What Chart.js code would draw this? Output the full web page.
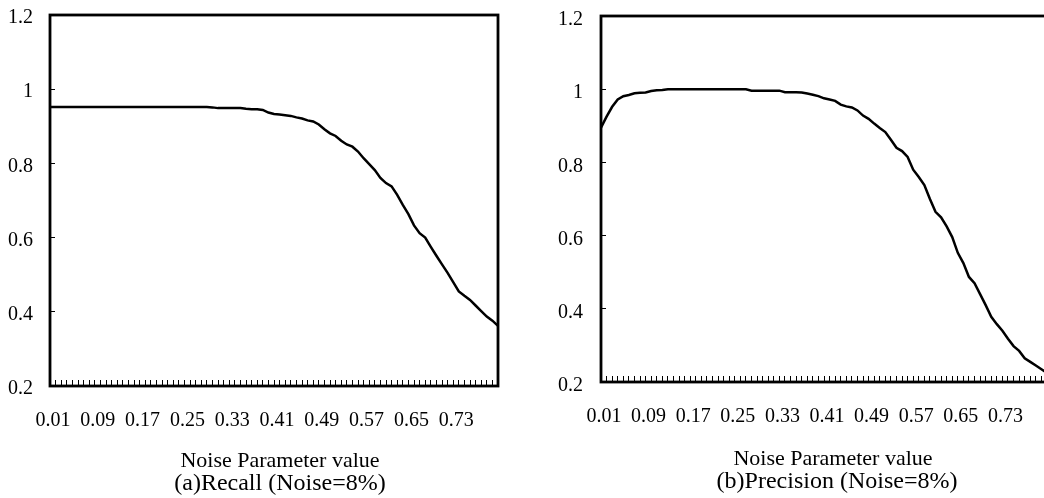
<!DOCTYPE html>
<html>
<head>
<meta charset="utf-8">
<script src="https://cdn.jsdelivr.net/npm/chart.js@4"></script>
<style>
    html, body { margin: 0; padding: 0; background: #fff; overflow: hidden; }
    body { width: 1044px; height: 498px; position: relative; }
    canvas { position: absolute; top: 0; }
    #recallChart { left: 0; }
    #precisionChart { left: 520px; }
    .cap { position: absolute; width: 400px; text-align: center; font-family: "Liberation Serif", "Times New Roman", serif; line-height: 1; color: #000; white-space: nowrap; }
    .axis-title { font-size: 22px; }
    .panel-title { font-size: 24px; }
</style>
</head>
<body>
<canvas id="recallChart" width="520" height="498"></canvas>
<canvas id="precisionChart" width="532" height="498"></canvas>

<div class="cap axis-title" style="left:80px; top:449px;">Noise Parameter value</div>
<div class="cap panel-title" style="left:80px; top:470px;">(a)Recall (Noise=8%)</div>
<div class="cap axis-title" style="left:633px; top:447px;">Noise Parameter value</div>
<div class="cap panel-title" style="left:637px; top:468px;">(b)Precision (Noise=8%)</div>

<script>
var noiseParams = ['0.01', '0.02', '0.03', '0.04', '0.05', '0.06', '0.07', '0.08', '0.09', '0.10',
    '0.11', '0.12', '0.13', '0.14', '0.15', '0.16', '0.17', '0.18', '0.19', '0.20',
    '0.21', '0.22', '0.23', '0.24', '0.25', '0.26', '0.27', '0.28', '0.29', '0.30',
    '0.31', '0.32', '0.33', '0.34', '0.35', '0.36', '0.37', '0.38', '0.39', '0.40',
    '0.41', '0.42', '0.43', '0.44', '0.45', '0.46', '0.47', '0.48', '0.49', '0.50',
    '0.51', '0.52', '0.53', '0.54', '0.55', '0.56', '0.57', '0.58', '0.59', '0.60',
    '0.61', '0.62', '0.63', '0.64', '0.65', '0.66', '0.67', '0.68', '0.69', '0.70',
    '0.71', '0.72', '0.73', '0.74', '0.75', '0.76', '0.77', '0.78', '0.79', '0.80', '0.81'];

// only these categories get a label under the axis
var shownTicks = ['0.01', '0.09', '0.17', '0.25', '0.33', '0.41', '0.49', '0.57', '0.65', '0.73'];

var yTicks = [0.2, 0.4, 0.6, 0.8, 1, 1.2];

var recall = [0.952, 0.952, 0.952, 0.952, 0.952, 0.952, 0.952, 0.952, 0.952, 0.952,
    0.952, 0.952, 0.952, 0.952, 0.952, 0.952, 0.952, 0.952, 0.952, 0.952,
    0.952, 0.952, 0.952, 0.952, 0.952, 0.952, 0.952, 0.952, 0.952, 0.951,
    0.949, 0.949, 0.949, 0.949, 0.949, 0.947, 0.946, 0.946, 0.944, 0.937,
    0.933, 0.932, 0.930, 0.928, 0.924, 0.921, 0.916, 0.913, 0.905, 0.892,
    0.881, 0.874, 0.861, 0.851, 0.845, 0.832, 0.814, 0.798, 0.782, 0.761,
    0.747, 0.738, 0.715, 0.688, 0.663, 0.633, 0.612, 0.600, 0.575, 0.551,
    0.528, 0.505, 0.480, 0.455, 0.443, 0.432, 0.417, 0.402, 0.387, 0.376, 0.362];

var precision = [0.895, 0.925, 0.952, 0.972, 0.981, 0.984, 0.989, 0.990, 0.991, 0.995,
    0.997, 0.998, 1.000, 1.000, 1.000, 1.000, 1.000, 1.000, 1.000, 1.000,
    1.000, 1.000, 1.000, 1.000, 1.000, 1.000, 1.000, 0.996, 0.996, 0.996,
    0.996, 0.996, 0.996, 0.992, 0.992, 0.992, 0.991, 0.988, 0.985, 0.981,
    0.975, 0.972, 0.968, 0.958, 0.953, 0.950, 0.942, 0.928, 0.919, 0.906,
    0.894, 0.883, 0.862, 0.840, 0.831, 0.815, 0.780, 0.760, 0.738, 0.700,
    0.665, 0.650, 0.625, 0.596, 0.553, 0.525, 0.487, 0.470, 0.440, 0.410,
    0.378, 0.358, 0.340, 0.318, 0.298, 0.285, 0.265, 0.255, 0.245, 0.235, 0.225];

var tickFont = { family: '"Liberation Serif", "Times New Roman", serif', size: 20 };

// black box round the plot area
var framePlugin = {
    id: 'frame',
    afterDraw: function (chart) {
        var a = chart.chartArea, c = chart.ctx;
        c.save();
        c.strokeStyle = '#000';
        c.lineWidth = 2.8;
        c.strokeRect(a.left, a.top, a.right - a.left, a.bottom - a.top);
        c.restore();
    }
};

// fixed axis size, and no extra label padding pushed onto the layout
function fixSize(prop, size) {
    return function (s) {
        s[prop] = size;
        s.paddingLeft = s.paddingRight = s.paddingTop = s.paddingBottom = 0;
    };
}

function drawPanel(id, values, yWidth, yPad, yShift, xHeight, pad) {
    new Chart(document.getElementById(id), {
        type: 'line',
        data: {
            labels: noiseParams,
            datasets: [{
                data: values,
                borderColor: '#000',
                borderWidth: 2.5,
                pointRadius: 0,
                tension: 0,
                fill: false
            }]
        },
        options: {
            responsive: false,
            animation: false,
            layout: { padding: pad },
            plugins: {
                legend: { display: false },
                tooltip: { enabled: false }
            },
            scales: {
                x: {
                    offset: false,
                    border: { display: false },
                    grid: { drawOnChartArea: false, drawTicks: true, tickLength: -6, color: '#000', lineWidth: 1 },
                    ticks: {
                        autoSkip: false,
                        maxRotation: 0,
                        padding: 29,
                        labelOffset: 3,
                        color: '#000',
                        font: tickFont,
                        callback: function (v, i) {
                            var lab = noiseParams[i];
                            return shownTicks.indexOf(lab) >= 0 ? lab : '';
                        }
                    },
                    afterFit: fixSize('height', xHeight)
                },
                y: {
                    min: 0.2,
                    max: 1.2,
                    border: { display: false },
                    grid: { drawOnChartArea: false, drawTicks: true, tickLength: -5, color: '#000', lineWidth: 1 },
                    afterBuildTicks: function (s) {
                        s.ticks = yTicks.map(function (t) { return { value: t }; });
                    },
                    ticks: {
                        padding: yPad,
                        labelOffset: yShift,
                        color: '#000',
                        font: tickFont,
                        callback: function (v) { return String(+v.toFixed(1)); }
                    },
                    afterFit: fixSize('width', yWidth)
                }
            }
        },
        plugins: [framePlugin]
    });
}

drawPanel('recallChart', recall, 50, 22, 3, 112, { top: 15, right: 22, bottom: 0, left: 0 });
drawPanel('precisionChart', precision, 81, 23, 4, 116, { top: 16, right: 5, bottom: 0, left: 0 });
</script>
</body>
</html>
